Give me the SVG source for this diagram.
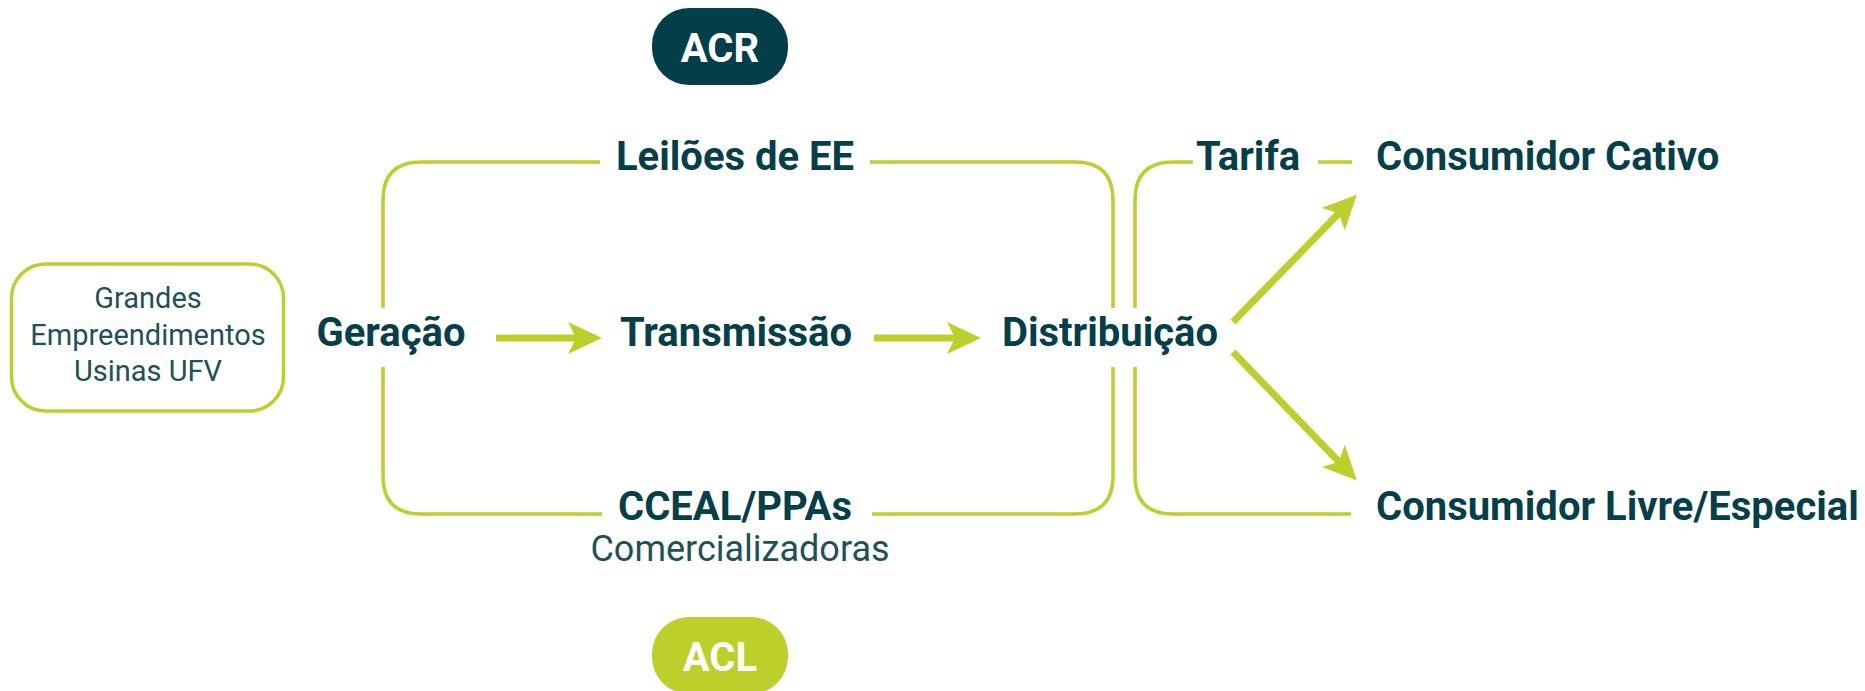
<svg xmlns="http://www.w3.org/2000/svg" width="1865" height="691" viewBox="0 0 1865 691">
<defs>
<style>
.b{font-family:Roboto,"Liberation Sans",sans-serif;font-weight:700;font-size:40px;fill:#053f4a}
.r{font-family:Roboto,"Liberation Sans",sans-serif;font-weight:400;fill:#1f5158}
.w{fill:#ffffff}
.ln{fill:none;stroke:#bccf2b;stroke-width:3.5}
.ar{fill:none;stroke:#bccf2b;stroke-width:7}
.pt{font-family:Roboto,"Liberation Sans",sans-serif;font-weight:700;font-size:40px;fill:#ffffff}
</style>
<marker id="ah" markerUnits="userSpaceOnUse" markerWidth="34" markerHeight="32" viewBox="0 0 34 32" refX="14" refY="16" orient="auto">
<path d="M0,0 L34,16 L0,32 L8,16 Z" fill="#bccf2b"/>
</marker>
</defs>
<rect width="1865" height="691" fill="#ffffff"/>
<g id="connectors">
<path class="ln" d="M600 162 H421 Q383 162 383 200 V476 Q383 514 421 514 H602"/>
<path class="ln" d="M870 162 H1075 Q1113 162 1113 200 V476 Q1113 514 1075 514 H872"/>
<path class="ln" d="M1193 162 H1173 Q1135 162 1135 200 V476 Q1135 514 1173 514 H1351"/>
<path class="ln" d="M1318 162 H1352"/>
<path class="ar" d="M496 338 H582" marker-end="url(#ah)"/>
<path class="ar" d="M874 338 H961" marker-end="url(#ah)"/>
<path class="ar" d="M1233 322 L1343 209" marker-end="url(#ah)"/>
<path class="ar" d="M1233 352 L1343 466" marker-end="url(#ah)"/>
</g>
<g id="acr">
<rect x="652" y="8" width="136" height="77" rx="37" fill="#033f48"/>
<text class="pt" x="720" y="62" text-anchor="middle">ACR</text>
</g>
<g id="acl">
<rect x="652" y="617" width="136" height="77" rx="37" fill="#bccf2b"/>
<text class="pt" x="720" y="671" text-anchor="middle">ACL</text>
</g>
<g id="grandes">
<rect x="11.5" y="264" width="272" height="147" rx="34" fill="#ffffff" stroke="#bccf2b" stroke-width="3.5"/>
<text class="r" font-size="29" text-anchor="middle"><tspan x="148" y="308">Grandes</tspan><tspan x="148" y="345">Empreendimentos</tspan><tspan x="148" y="381">Usinas UFV</tspan></text>
</g>
<g id="geracao">
<rect class="w" x="306" y="308" width="167" height="59"/>
<text class="b" x="391" y="346" text-anchor="middle">Geração</text>
</g>
<g id="leiloes">
<rect class="w" x="600" y="132" width="270" height="55"/>
<text class="b" x="735" y="170" text-anchor="middle">Leilões de EE</text>
</g>
<g id="transmissao">
<text class="b" x="736" y="346" text-anchor="middle">Transmissão</text>
</g>
<g id="cceal">
<rect class="w" x="602" y="485" width="270" height="50"/>
<text class="b" x="735" y="520" text-anchor="middle">CCEAL/PPAs</text>
<text class="r" font-size="36" font-weight="300" x="740" y="561" text-anchor="middle" fill="#2d5a61">Comercializadoras</text>
</g>
<g id="distribuicao">
<rect class="w" x="990" y="308" width="240" height="59"/>
<text class="b" x="1110" y="346" text-anchor="middle">Distribuição</text>
</g>
<g id="tarifa">
<text class="b" x="1248" y="170" text-anchor="middle">Tarifa</text>
</g>
<g id="cativo">
<text class="b" x="1376" y="170">Consumidor Cativo</text>
</g>
<g id="livre">
<text class="b" x="1376" y="520">Consumidor Livre/Especial</text>
</g>
</svg>
